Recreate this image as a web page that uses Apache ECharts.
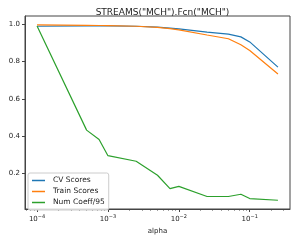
<!DOCTYPE html>
<html><head><meta charset="utf-8">
<script src="https://cdn.jsdelivr.net/npm/echarts@6/dist/echarts.min.js"></script>
<style>html,body{margin:0;padding:0;background:#fff}#c{width:297px;height:240px}</style>
</head><body><div id="c"></div>
<script>
var titleText = 'STREAMS("MCH").Fcn("MCH")';
var xLabel = 'alpha';
var alphas = [1e-4, 5e-4, 7.5e-4, 1e-3, 2.5e-3, 5e-3, 7.5e-3, 1e-2, 2.5e-2, 5e-2, 7.5e-2, 0.1, 0.25];
var cvScores = [0.989, 0.991, 0.991, 0.991, 0.989, 0.984, 0.979, 0.975, 0.958, 0.947, 0.932, 0.905, 0.770];
var trainScores = [0.996, 0.994, 0.993, 0.992, 0.989, 0.983, 0.976, 0.970, 0.942, 0.922, 0.890, 0.859, 0.733];
var numCoeff = [0.990, 0.432, 0.382, 0.295, 0.265, 0.190, 0.118, 0.130, 0.076, 0.076, 0.088, 0.065, 0.056];
var seriesNames = ['CV Scores', 'Train Scores', 'Num Coeff/95'];
var xMajorExp = [-4, -3, -2, -1];
var yTicks = [0.2, 0.4, 0.6, 0.8, 1.0];

var lx = alphas.map(function(a){return Math.log10(a);});
var xmin = -4.17, xmax = -0.432;
var minor = [];
for (var e = -5; e <= -1; e++) for (var k = 2; k <= 9; k++) {
  var v = Math.log10(k * Math.pow(10, e));
  if (v >= xmin && v <= xmax) minor.push(v);
}
function pts(arr){ return arr.map(function(v,i){return [lx[i], v];}); }
var colors = ['#1f77b4', '#ff7f0e', '#2ca02c'];
var axisCol = '#444';
var font = 'DejaVu Sans';
var chart = echarts.init(document.getElementById('c'), null, {renderer: 'canvas'});
chart.setOption({
  animation: false,
  title: {text: titleText, left: 157.5, textAlign: 'center', top: 3,
    textStyle: {fontFamily: font, fontSize: 9, fontWeight: 'normal', color: '#222'}},
  grid: {left: 25, right: 7, top: 16, bottom: 26, show: true, borderColor: axisCol, borderWidth: 1, backgroundColor: 'transparent'},
  legend: {
    orient: 'vertical', left: 28, top: 173, icon: 'rect', itemWidth: 13, itemHeight: 1.5, itemGap: 2,
    padding: [3, 4, 3, 4], borderColor: '#ccc', borderWidth: 1, borderRadius: 2, backgroundColor: 'rgba(255,255,255,0.8)',
    textStyle: {fontFamily: font, fontSize: 7.5, color: '#222', lineHeight: 9, padding: [0,0,0,3]},
    data: seriesNames
  },
  xAxis: [{
    type: 'value', min: xmin, max: xmax, name: xLabel, nameLocation: 'middle', nameGap: 19,
    nameTextStyle: {fontFamily: font, fontSize: 7, color: '#222'},
    splitLine: {show: false},
    axisLine: {show: true, lineStyle: {color: axisCol, width: 1}},
    axisTick: {show: true, length: 3, customValues: xMajorExp, lineStyle: {color: axisCol}},
    axisLabel: {show: true, customValues: xMajorExp, margin: 5, fontFamily: font, fontSize: 7, color: '#222',
      formatter: function(v){ return '{b|10}{s|\u2212' + Math.abs(Math.round(v)) + '}'; },
      rich: {b: {fontFamily: font, fontSize: 7, color: '#222'},
             s: {fontFamily: font, fontSize: 5, color: '#222', verticalAlign: 'top', padding: [0, 0, 5, 0]}}}
  }, {
    type: 'value', min: xmin, max: xmax, position: 'bottom', gridIndex: 0,
    splitLine: {show: false}, axisLine: {show: false},
    axisTick: {show: true, length: 1.5, customValues: minor, lineStyle: {color: axisCol}},
    axisLabel: {show: false}
  }],
  yAxis: {
    type: 'value', min: 0.009, max: 1.044,
    splitLine: {show: false},
    axisLine: {show: true, lineStyle: {color: axisCol, width: 1}},
    axisTick: {show: true, length: 3, customValues: yTicks, lineStyle: {color: axisCol}},
    axisLabel: {show: true, customValues: yTicks, margin: 5, fontFamily: font, fontSize: 7, color: '#222',
      formatter: function(v){ return v.toFixed(1); }}
  },
  series: [
    {name: seriesNames[0], type: 'line', data: pts(cvScores), showSymbol: false, symbol: 'none', lineStyle: {color: colors[0], width: 1.2}, itemStyle: {color: colors[0]}},
    {name: seriesNames[1], type: 'line', data: pts(trainScores), showSymbol: false, symbol: 'none', lineStyle: {color: colors[1], width: 1.2}, itemStyle: {color: colors[1]}},
    {name: seriesNames[2], type: 'line', data: pts(numCoeff), showSymbol: false, symbol: 'none', lineStyle: {color: colors[2], width: 1.2}, itemStyle: {color: colors[2]}}
  ]
});
</script></body></html>
